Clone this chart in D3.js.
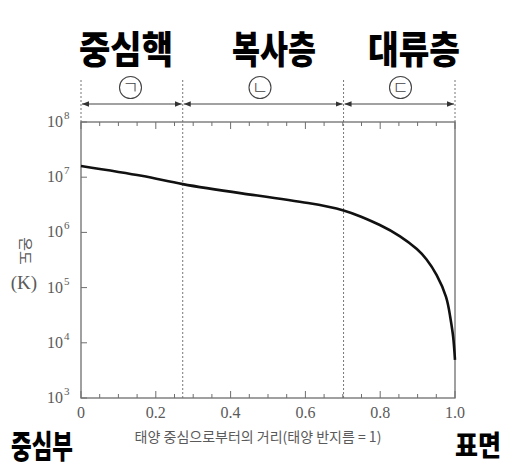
<!DOCTYPE html>
<html><head><meta charset="utf-8">
<script src="https://cdn.jsdelivr.net/npm/d3@7"></script>
<style>body{margin:0;background:#fff}svg{display:block}</style>
</head><body>
<script>
// ---- data ----
const radius = [0, 0.162, 0.272, 0.43, 0.607, 0.702, 0.749, 0.799, 0.853, 0.898, 0.924, 0.951, 0.976, 0.987, 0.995, 1.0];
const temperature = [1.6e7, 1.06e7, 7.5e6, 5.1e6, 3.4e6, 2.5e6, 1.92e6, 1.36e6, 8.5e5, 5.0e5, 3.23e5, 1.69e5, 6.8e4, 3.0e4, 1.3e4, 4.9e3];
const boundaries = [0, 0.272, 0.702, 1.0];
const layerNames = ["중심핵", "복사층", "대류층"];
const layerMarks = ["ㄱ", "ㄴ", "ㄷ"];
const xTickLabels = ["0", "0.2", "0.4", "0.6", "0.8", "1.0"];
const yExponents = [3, 4, 5, 6, 7, 8];
const xTitle = "태양 중심으로부터의 거리(태양 반지름 = 1)";
const yTitle = "온도";
const yUnit = "(K)";
const leftEnd = "중심부";
const rightEnd = "표면";

const W = 509, H = 470;
const L = 81, R = 455, T = 122, B = 398;
const svg = d3.select("body").append("svg").attr("width", W).attr("height", H);
const x = d3.scaleLinear().domain([0, 1]).range([L, R]);
const y = d3.scaleLog().domain([1e3, 1e8]).range([B, T]);
const axisCol = "#6e6e6e", textCol = "#5a5a5a";

const defs = svg.append("defs");
["s", "e"].forEach(k => {
  defs.append("marker").attr("id", "arr" + k).attr("viewBox", "0 0 10 10")
    .attr("refX", k === "e" ? 10 : 0).attr("refY", 5).attr("markerWidth", 7).attr("markerHeight", 7)
    .attr("markerUnits", "userSpaceOnUse").attr("orient", "auto")
    .append("path").attr("d", k === "e" ? "M0,1 L10,5 L0,9 Z" : "M10,1 L0,5 L10,9 Z").attr("fill", "#333");
});

// dotted boundary lines
boundaries.forEach(b => {
  const inner = b > 0 && b < 1;
  svg.append("line").attr("x1", x(b)).attr("x2", x(b)).attr("y1", 80).attr("y2", inner ? B : T)
    .attr("stroke", "#777").attr("stroke-width", 1).attr("stroke-dasharray", "2,2");
});

// plot frame
svg.append("rect").attr("x", L).attr("y", T).attr("width", R - L).attr("height", B - T)
  .attr("fill", "none").attr("stroke", axisCol).attr("stroke-width", 1.3);

// x ticks (bottom & top, inward)
const xt = d3.range(0, 21).map(i => i * 0.05);
svg.selectAll(".xtb").data(xt).enter().append("line")
  .attr("x1", d => x(d)).attr("x2", d => x(d))
  .attr("y1", B).attr("y2", (d, i) => B - (i % 4 === 0 ? 7 : 4)).attr("stroke", axisCol).attr("stroke-width", 1);
svg.selectAll(".xtt").data(xt).enter().append("line")
  .attr("x1", d => x(d)).attr("x2", d => x(d))
  .attr("y1", T).attr("y2", (d, i) => T + (i % 4 === 0 ? 7 : 4)).attr("stroke", axisCol).attr("stroke-width", 1);
xTickLabels.forEach((lab, i) => {
  svg.append("text").attr("x", x(i * 0.2)).attr("y", 418).attr("text-anchor", "middle")
    .attr("font-family", "Liberation Serif").attr("font-size", 16).attr("fill", textCol).text(lab);
});

// y ticks
yExponents.forEach(e => {
  const yy = y(Math.pow(10, e));
  svg.append("line").attr("x1", L).attr("x2", L + 6).attr("y1", yy).attr("y2", yy).attr("stroke", axisCol).attr("stroke-width", 1);
  svg.append("text").attr("x", 63).attr("y", yy + 5).attr("text-anchor", "end")
    .attr("font-family", "Liberation Serif").attr("font-size", 16).attr("fill", textCol).text("10");
  svg.append("text").attr("x", 64).attr("y", yy - 3).attr("font-family", "Liberation Serif")
    .attr("font-size", 11).attr("fill", textCol).text(e);
});

// curve
const line = d3.line().x((d, i) => x(radius[i])).y((d, i) => y(temperature[i])).curve(d3.curveNatural);
svg.append("path").datum(temperature).attr("d", line).attr("fill", "none")
  .attr("stroke", "#111").attr("stroke-width", 2.6);

// arrows, circled marks, layer names
const titleLen = [94, 84, 92];
for (let i = 0; i < 3; i++) {
  const x0 = x(boundaries[i]), x1 = x(boundaries[i + 1]);
  svg.append("line").attr("x1", x0 + 1).attr("x2", x1 - 1).attr("y1", 104).attr("y2", 104)
    .attr("stroke", "#444").attr("stroke-width", 1.2)
    .attr("marker-start", "url(#arrs)").attr("marker-end", "url(#arre)");
  const cx = [130.5, 260, 400.5][i];
  svg.append("circle").attr("cx", cx).attr("cy", 87.5).attr("r", 11).attr("fill", "none")
    .attr("stroke", "#444").attr("stroke-width", 1.1);
  svg.append("text").attr("x", cx).attr("y", 94).attr("text-anchor", "middle")
    .attr("font-family", "Noto Sans CJK KR").attr("font-weight", 300).attr("font-size", 18).attr("fill", "#444").text(layerMarks[i]);
  svg.append("text").attr("x", [126, 274, 414][i]).attr("y", 63).attr("text-anchor", "middle")
    .attr("font-family", "Noto Sans CJK KR").attr("font-weight", 900).attr("font-size", 38)
    .attr("textLength", titleLen[i]).attr("lengthAdjust", "spacingAndGlyphs")
    .attr("fill", "#000").text(layerNames[i]);
}

// axis titles
svg.append("text").attr("x", 258).attr("y", 442).attr("text-anchor", "middle")
  .attr("font-family", "Noto Sans CJK KR").attr("font-size", 14).attr("fill", textCol).text(xTitle);
svg.append("text").attr("transform", "translate(20,251) rotate(90)").attr("text-anchor", "middle")
  .attr("font-family", "Noto Sans CJK KR").attr("font-size", 15).attr("fill", textCol).text(yTitle);
svg.append("text").attr("x", 24).attr("y", 289).attr("text-anchor", "middle")
  .attr("font-family", "Liberation Serif").attr("font-size", 19).attr("fill", textCol).text(yUnit);

// ends
svg.append("text").attr("x", 42).attr("y", 458).attr("text-anchor", "middle")
  .attr("font-family", "Noto Sans CJK KR").attr("font-weight", 900).attr("font-size", 32)
  .attr("textLength", 62).attr("lengthAdjust", "spacingAndGlyphs").attr("fill", "#000").text(leftEnd);
svg.append("text").attr("x", 478).attr("y", 456).attr("text-anchor", "middle")
  .attr("font-family", "Noto Sans CJK KR").attr("font-weight", 900).attr("font-size", 28)
  .attr("textLength", 46).attr("lengthAdjust", "spacingAndGlyphs").attr("fill", "#000").text(rightEnd);
</script>
</body></html>
